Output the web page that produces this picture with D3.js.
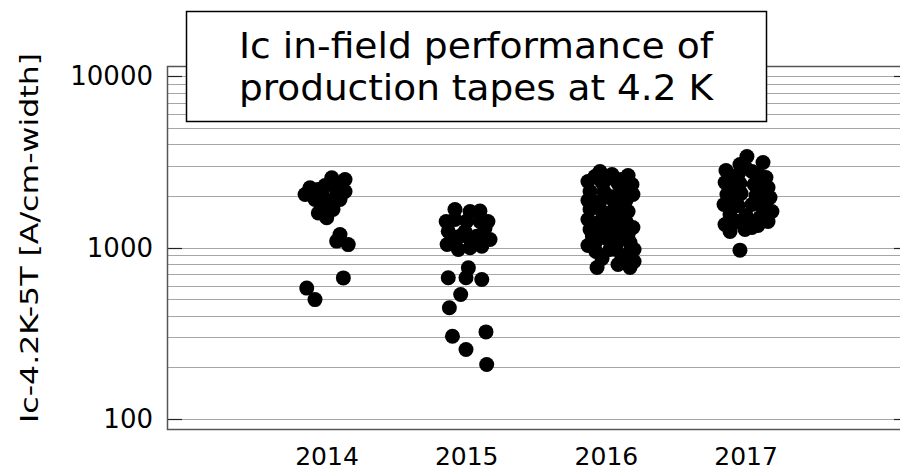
<!DOCTYPE html>
<html>
<head>
<meta charset="utf-8">
<script src="https://cdn.jsdelivr.net/npm/d3@7"></script>
<style>
  html, body { margin: 0; padding: 0; background: #fff; }
  svg { display: block; }
</style>
</head>
<body>
<svg id="chart" width="900" height="471"></svg>
<script>
// ---------------- DATA ----------------
const years = [2014, 2015, 2016, 2017];
const yTickValues = [100, 1000, 10000];
const yTickLabels = ["100", "1000", "10000"];
const titleLines = ["Ic in-field performance of", "production tapes at 4.2 K"];
const yAxisTitle = "Ic-4.2K-5T [A/cm-width]";

// [jittered x position (year), Ic value]
const pts2014 = [
  [2014.034, 2550], [2014.129, 2490], [2013.878, 2230], [2013.843, 2037],
  [2013.971, 1990], [2014.069, 2130], [2014.093, 1905], [2014.021, 1860],
  [2013.986, 2300], [2013.938, 1590], [2013.998, 1490], [2014.093, 1190],
  [2014.069, 1090], [2014.152, 1040], [2014.117, 665], [2013.855, 580],
  [2013.914, 497],
  [2013.936, 2179], [2014.079, 2362], [2014.129, 2121], [2013.914, 1905],
  [2013.964, 1711], [2014.043, 1665]
];
const pts2015 = [
  [2015.095, 1630], [2014.916, 1457], [2015.000, 1425], [2014.868, 1245],
  [2015.131, 1300], [2014.952, 1164], [2015.072, 1164], [2014.940, 973],
  [2015.024, 996], [2015.108, 1017], [2015.024, 1622], [2015.167, 1113],
  [2014.853, 1418], [2015.024, 1113], [2015.152, 1418],
  [2014.916, 1665], [2015.095, 1418], [2014.916, 1144], [2014.988, 1240],
  [2014.860, 1041],
  [2015.012, 761], [2014.868, 666], [2014.995, 666], [2015.108, 651],
  [2014.957, 532], [2014.876, 445], [2014.898, 304], [2015.138, 322],
  [2014.995, 254], [2015.143, 208]
];
const pts2016 = [
  [2015.954, 2775], [2016.040, 2666], [2016.155, 2630], [2015.868, 2426],
  [2015.969, 2393], [2016.083, 2362], [2016.183, 2330], [2015.883, 2121],
  [2015.983, 2121], [2016.097, 2093], [2016.190, 2037], [2015.868, 1880],
  [2015.954, 1854], [2016.054, 1854], [2016.140, 1880], [2015.883, 1665],
  [2015.969, 1622], [2016.054, 1665], [2016.155, 1622], [2015.868, 1457],
  [2015.954, 1418], [2016.040, 1457], [2016.140, 1418], [2016.190, 1308],
  [2015.883, 1274], [2015.954, 1240], [2016.054, 1240], [2016.155, 1191],
  [2015.925, 1084], [2016.011, 1113], [2016.169, 1069], [2015.868, 1027],
  [2015.925, 948], [2015.969, 863], [2015.933, 764], [2016.069, 973],
  [2016.112, 874], [2016.198, 829], [2016.169, 948], [2016.083, 796],
  [2016.000, 2500], [2016.110, 2200], [2015.910, 1750], [2016.100, 1550],
  [2016.000, 1350], [2016.100, 1300], [2016.060, 1020], [2015.900, 1160],
  [2015.918, 2596], [2016.105, 2492], [2016.026, 1983], [2015.918, 1734],
  [2016.105, 1758], [2016.004, 1344], [2016.105, 1113], [2015.911, 1175],
  [2016.026, 973], [2016.198, 973], [2016.169, 764]
];
const pts2017 = [
  [2017.006, 3394], [2017.121, 3131], [2016.956, 3048], [2016.856, 2812],
  [2016.942, 2666], [2017.042, 2775], [2017.142, 2560], [2016.850, 2393],
  [2016.956, 2362], [2017.058, 2330], [2017.157, 2238], [2016.863, 2037],
  [2016.964, 2065], [2017.071, 2010], [2017.171, 1957], [2016.842, 1781],
  [2016.942, 1758], [2017.042, 1781], [2017.142, 1711], [2017.185, 1622],
  [2016.885, 1557], [2016.999, 1537], [2017.099, 1496], [2016.849, 1362],
  [2016.992, 1274], [2017.085, 1344], [2016.956, 965],
  [2017.000, 2900], [2017.090, 2650], [2016.900, 2200], [2017.110, 1850],
  [2016.920, 1420], [2017.040, 1420],
  [2016.907, 2530], [2017.099, 2179], [2016.907, 1905], [2017.099, 1781],
  [2016.942, 1418], [2017.042, 1308], [2016.885, 1240], [2017.157, 1418]
];

// ---------------- LAYOUT ----------------
const svg = d3.select("#chart");
const plot = { left: 167, right: 909, top: 66, bottom: 429 };

const x = d3.scaleLinear().domain([2013, 2018]).range([187.3, 885.8]);
const y = d3.scaleLog().domain([100, 10000]).range([419, 76]);

// grid values (all decade sub-divisions within frame)
const gridVals = [];
[100, 1000].forEach(dec => { for (let k = 1; k <= 9; k++) gridVals.push(k * dec); });
gridVals.push(10000);

const g = svg.append("g");

// grid lines
g.selectAll("line.grid").data(gridVals).join("line")
  .attr("class", "grid")
  .attr("x1", plot.left).attr("x2", plot.right)
  .attr("y1", d => Math.round(y(d)) + 0.5).attr("y2", d => Math.round(y(d)) + 0.5)
  .attr("stroke", "#a6a6a6").attr("stroke-width", 1.2);

// major tick stubs (inside, left and right)
g.selectAll("line.tickL").data(yTickValues).join("line")
  .attr("x1", plot.left).attr("x2", plot.left + 15)
  .attr("y1", d => Math.round(y(d)) + 0.5).attr("y2", d => Math.round(y(d)) + 0.5)
  .attr("stroke", "#222").attr("stroke-width", 1.2);
g.selectAll("line.tickR").data(yTickValues).join("line")
  .attr("x1", plot.right - 15).attr("x2", plot.right)
  .attr("y1", d => Math.round(y(d)) + 0.5).attr("y2", d => Math.round(y(d)) + 0.5)
  .attr("stroke", "#222").attr("stroke-width", 1.2);

// frame
g.append("rect")
  .attr("x", plot.left + 0.5).attr("y", plot.top + 0.5)
  .attr("width", plot.right - plot.left).attr("height", plot.bottom - plot.top)
  .attr("fill", "none").attr("stroke", "#555").attr("stroke-width", 1.5);

// y tick labels
g.selectAll("text.ylab").data(yTickValues).join("text")
  .attr("x", 153).attr("y", d => y(d))
  .attr("text-anchor", "end").attr("dominant-baseline", "central")
  .attr("font-family", "DejaVu Sans, Verdana, sans-serif")
  .attr("font-size", 26).attr("fill", "#000")
  .text((d, i) => yTickLabels[i]);

// x tick labels
g.selectAll("text.xlab").data(years).join("text")
  .attr("x", d => x(d)).attr("y", 465)
  .attr("text-anchor", "middle")
  .attr("font-family", "DejaVu Sans, Verdana, sans-serif")
  .attr("font-size", 25).attr("fill", "#000")
  .text(d => d);

// y axis title
g.append("text")
  .attr("transform", "translate(38,238) rotate(-90)")
  .attr("text-anchor", "middle")
  .attr("font-family", "DejaVu Sans, Verdana, sans-serif")
  .attr("font-size", 24).attr("fill", "#000")
  .attr("textLength", 370).attr("lengthAdjust", "spacingAndGlyphs")
  .text(yAxisTitle);

// points
const allPts = [].concat(pts2014, pts2015, pts2016, pts2017);
g.append("g").selectAll("circle").data(allPts).join("circle")
  .attr("cx", d => x(d[0])).attr("cy", d => y(d[1]))
  .attr("r", 7.5).attr("fill", "#000");

// title box
const box = { x: 186, y: 11, w: 580, h: 110 };
g.append("rect")
  .attr("x", box.x + 0.5).attr("y", box.y + 0.5)
  .attr("width", box.w).attr("height", box.h)
  .attr("fill", "#fff").attr("stroke", "#000").attr("stroke-width", 1.5);
g.selectAll("text.title").data(titleLines).join("text")
  .attr("x", box.x + box.w / 2).attr("y", (d, i) => 58 + i * 42)
  .attr("text-anchor", "middle")
  .attr("font-family", "DejaVu Sans Condensed, DejaVu Sans, sans-serif")
  .attr("font-size", 36).attr("fill", "#000")
  .attr("textLength", 474).attr("lengthAdjust", "spacingAndGlyphs")
  .text(d => d);
</script>
</body>
</html>
